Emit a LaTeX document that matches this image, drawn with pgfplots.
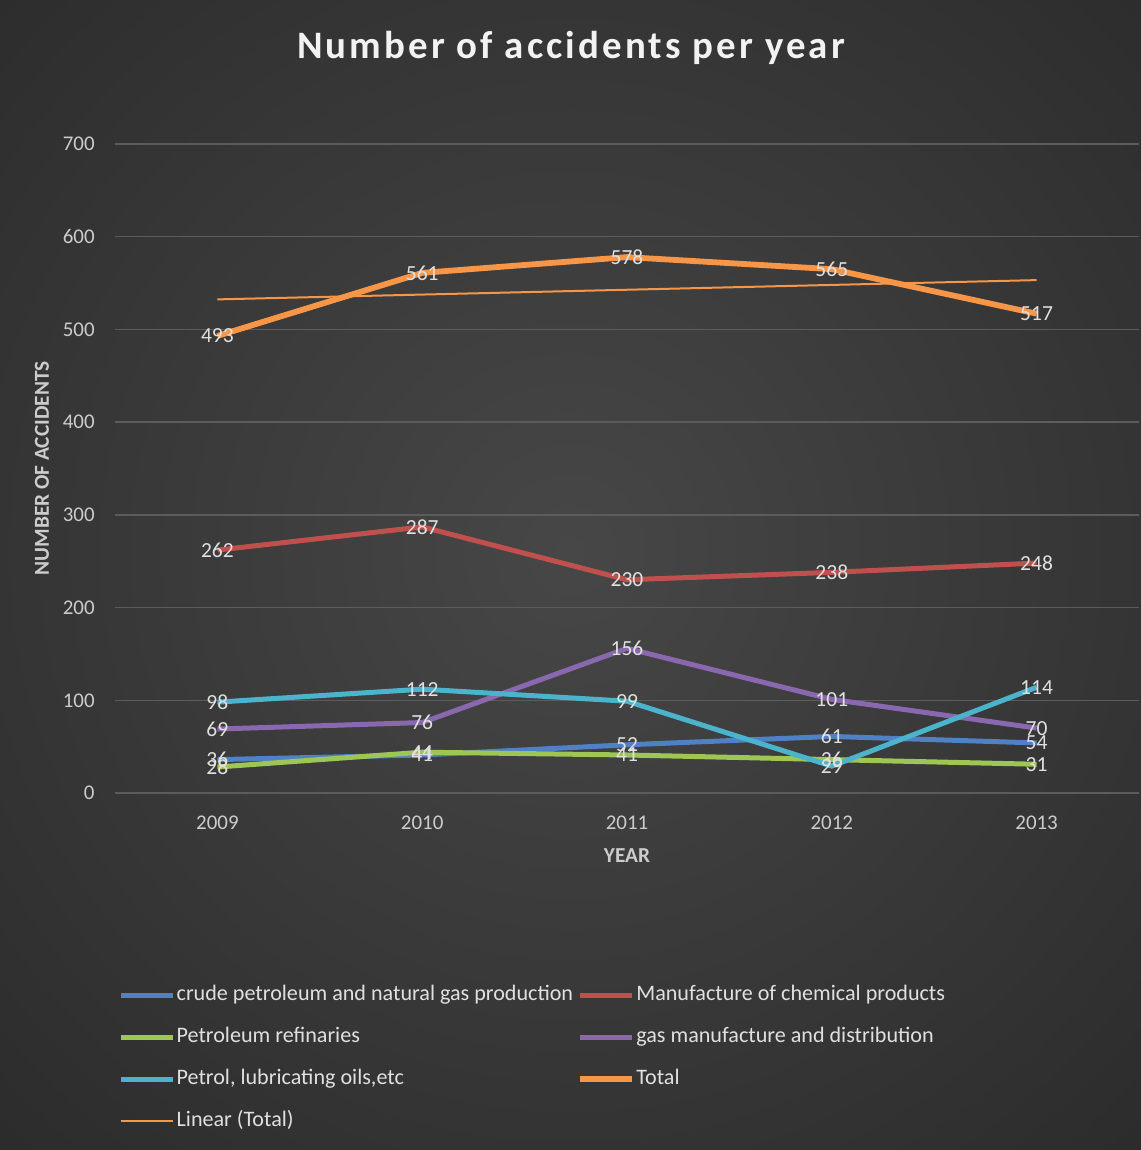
\documentclass[border=0pt]{standalone}
\usepackage{pgfplots}
\usepackage{pgfplotstable}
\pgfplotsset{compat=1.18}
\usepackage{fontspec}
\setmainfont{Carlito}
\definecolor{bgin}{HTML}{474747}
\definecolor{bgout}{HTML}{2A2A2A}
\definecolor{gridc}{HTML}{5C5C5C}
\definecolor{tickc}{HTML}{CCCCCC}
\definecolor{labc}{HTML}{E0E0E0}
\definecolor{titlec}{HTML}{F2F2F2}
\definecolor{cblue}{HTML}{4F81C7}
\definecolor{cred}{HTML}{C0504D}
\definecolor{cgreen}{HTML}{9DC654}
\definecolor{cpurple}{HTML}{8A68B0}
\definecolor{ccyan}{HTML}{4BB4CC}
\definecolor{corange}{HTML}{F79646}

\pgfplotstableread{
year crude chem refin gas petrol total trend
2009 36 262 28 69 98 493 532.4
2010 41 287 44 76 112 561 537.6
2011 52 230 41 156 99 578 542.8
2012 61 238 36 101 29 565 548.0
2013 54 248 31 70 114 517 553.2
}\datatab

\begin{document}
\begin{tikzpicture}
\begin{scope}
\clip (0bp,0bp) rectangle (570.5bp,575bp);
\shade[inner color=bgin, outer color=bgout] (285bp,300bp) circle (440bp);
\end{scope}
\path[use as bounding box] (0bp,0bp) rectangle (570.5bp,575bp);
\node[font=\fontsize{19.5}{23}\selectfont\bfseries\addfontfeatures{LetterSpace=8}, text=titlec, anchor=center] at (285.5bp,551bp) {Number of accidents per year};
\begin{axis}[
  at={(57.5bp,178.5bp)}, anchor=south west,
  scale only axis, width=512bp, height=324.5bp,
  xmin=2008.5, xmax=2013.5, ymin=0, ymax=700,
  xtick={2009,2010,2011,2012,2013},
  ytick={0,100,...,700},
  /pgf/number format/assume math mode=true,
  /pgf/number format/set thousands separator={},
  ymajorgrids, grid style={color=gridc, line width=0.7bp},
  axis line style={draw=none}, major tick style={draw=none},
  ticklabel style={font=\fontsize{10.5}{12}\selectfont, text=tickc},
  yticklabel style={anchor=east, inner sep=0pt, xshift=-10bp},
  xticklabel style={anchor=center, inner sep=0pt, yshift=-15bp},
  clip=false,
  legend columns=2,
  legend cell align=left,
  legend style={at={(0.003,-0.296)}, anchor=north west, draw=none, fill=none,
    inner sep=0pt, font=\fontsize{11.1}{12}\selectfont, text=labc,
    nodes={inner sep=0.6bp, text height=7bp, text depth=2bp},
    row sep=10.7bp,
    /tikz/every odd column/.append style={column sep=0bp},
    /tikz/every even column/.append style={column sep=1.5bp}},
  legend image code/.code={\draw[#1] (0bp,0bp) -- (26bp,0bp);},
  every node near coord/.append style={font=\fontsize{10.8}{12}\selectfont, text=labc, anchor=center, inner sep=0pt},
]
\addplot[cblue, line width=2.5bp] table[x=year, y=crude] {\datatab};
\addlegendentry{crude petroleum and natural gas production}
\addplot[cred, line width=2.5bp] table[x=year, y=chem] {\datatab};
\addlegendentry{Manufacture of chemical products}
\addplot[cgreen, line width=2.5bp] table[x=year, y=refin] {\datatab};
\addlegendentry{Petroleum refinaries}
\addplot[cpurple, line width=2.5bp] table[x=year, y=gas] {\datatab};
\addlegendentry{gas manufacture and distribution}
\addplot[ccyan, line width=2.5bp] table[x=year, y=petrol] {\datatab};
\addlegendentry{Petrol, lubricating oils,etc}
\addplot[corange, line width=2.9bp] table[x=year, y=total] {\datatab};
\addlegendentry{Total}
\addplot[corange, line width=1bp] table[x=year, y=trend] {\datatab};
\addlegendentry{Linear (Total)}
% data labels on top of all lines
\addplot[draw=none, forget plot, nodes near coords] table[x=year, y=crude] {\datatab};
\addplot[draw=none, forget plot, nodes near coords] table[x=year, y=chem] {\datatab};
\addplot[draw=none, forget plot, nodes near coords] table[x=year, y=refin] {\datatab};
\addplot[draw=none, forget plot, nodes near coords] table[x=year, y=gas] {\datatab};
\addplot[draw=none, forget plot, nodes near coords] table[x=year, y=petrol] {\datatab};
\addplot[draw=none, forget plot, nodes near coords] table[x=year, y=total] {\datatab};
\node[font=\fontsize{10.7}{12}\selectfont\bfseries, text=tickc] at (rel axis cs:0.5,0) [yshift=-31.5bp] {YEAR};
\path (rel axis cs:0,0.5) ++(-36.5bp,0bp) node[font=\fontsize{10.7}{12}\selectfont\bfseries, text=tickc, rotate=90, anchor=center] {NUMBER OF ACCIDENTS};
\end{axis}
\end{tikzpicture}
\end{document}
